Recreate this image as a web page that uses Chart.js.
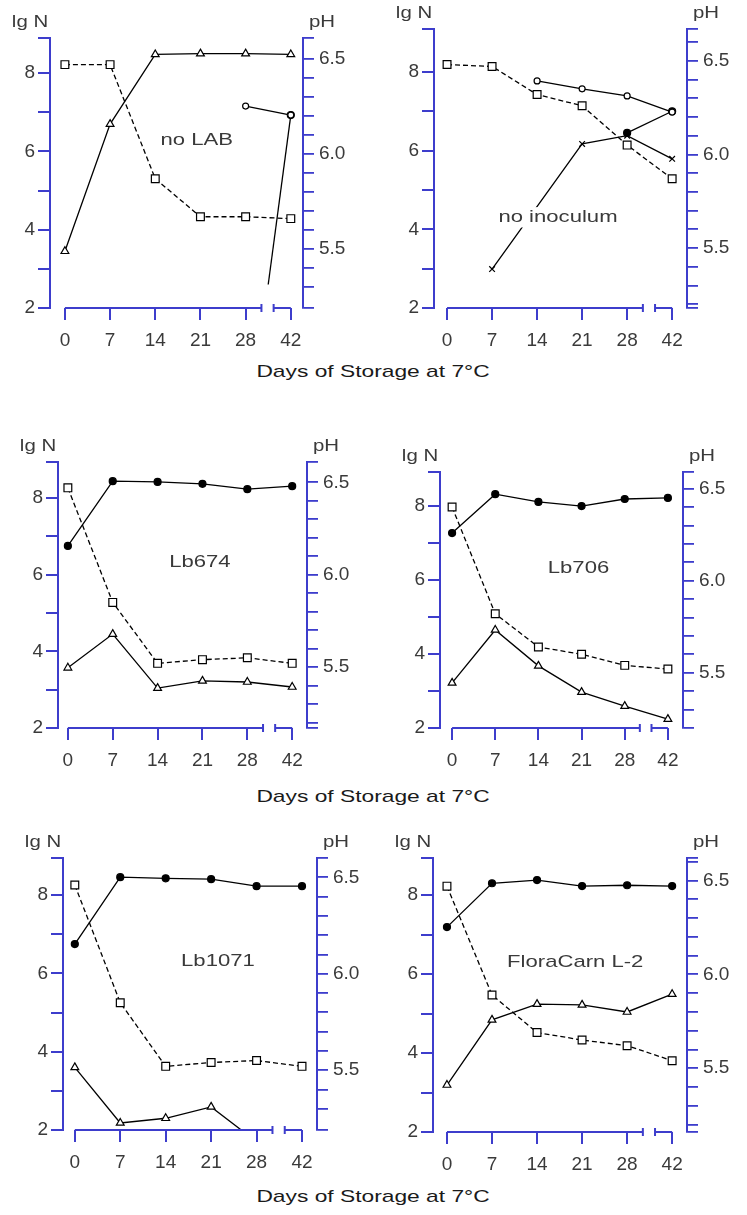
<!DOCTYPE html>
<html>
<head>
<meta charset="utf-8">
<title>Days of Storage at 7°C</title>
<script src="https://cdn.jsdelivr.net/npm/chart.js@4.4.1/dist/chart.umd.min.js"></script>
<style>
  body { margin: 0; background: #fff; }
  #page { position: relative; width: 747px; height: 1215px; background: #fff; overflow: hidden;
          font-family: "Liberation Sans", Arial, sans-serif; }
  #page canvas { position: absolute; }
  .xtitle { position: absolute; left: 0; width: 747px; text-align: center; font-size: 17px; color: #1a1a1a; line-height: 20px; }
  .xtitle span { display: inline-block; transform: scaleX(1.34); }
</style>
</head>
<body>
<div id="page">
  <canvas id="c1"></canvas>
  <canvas id="c2"></canvas>
  <canvas id="c3"></canvas>
  <canvas id="c4"></canvas>
  <canvas id="c5"></canvas>
  <canvas id="c6"></canvas>
  <div class="xtitle" style="top:362px"><span>Days of Storage at 7°C</span></div>
  <div class="xtitle" style="top:787px"><span>Days of Storage at 7°C</span></div>
  <div class="xtitle" style="top:1187px"><span>Days of Storage at 7°C</span></div>
</div>
<script>
// === Data ===
const dayLabels = ['0', '7', '14', '21', '28', '42'];
const dayPos = [0, 1, 2, 3, 4, 5];
const lgNTicks = [2, 3, 4, 5, 6, 7, 8];
const lgNLabels = ['2', '4', '6', '8'];
const phTicks = [5.2, 5.3, 5.4, 5.5, 5.6, 5.7, 5.8, 5.9, 6.0, 6.1, 6.2, 6.3, 6.4, 6.5, 6.6];
const phLabels = ['5.5', '6.0', '6.5'];

// no LAB
const noLabPh = [6.47, 6.47, 5.87, 5.67, 5.67, 5.66];
const noLabTri = [3.45, 6.70, 8.48, 8.50, 8.50, 8.48];
const noLabRing = [null, null, null, null, 7.16, 6.93];
const noLabDotX = [4.5, 5];
const noLabDotY = [2.6, 6.93];

// no inoculum
const noInocPh = [6.48, 6.47, 6.32, 6.26, 6.05, 5.87];
const noInocRing = [null, null, 7.77, 7.57, 7.39, 6.98];
const noInocCross = [null, 2.99, null, 6.17, 6.38, 5.79];
const noInocDot = [null, null, null, null, 6.45, 7.00];

// Lb674
const lb674Dot = [6.75, 8.44, 8.42, 8.37, 8.23, 8.31];
const lb674Ph = [6.47, 5.85, 5.52, 5.54, 5.55, 5.52];
const lb674Tri = [3.57, 4.45, 3.04, 3.23, 3.20, 3.07];

// Lb706
const lb706Dot = [7.27, 8.32, 8.11, 8.00, 8.19, 8.22];
const lb706Ph = [6.40, 5.82, 5.64, 5.60, 5.54, 5.52];
const lb706Tri = [3.22, 4.65, 3.68, 2.97, 2.59, 2.24];

// Lb1071
const lb1071Dot = [6.75, 8.46, 8.43, 8.41, 8.23, 8.23];
const lb1071Ph = [6.46, 5.85, 5.52, 5.54, 5.55, 5.52];
const lb1071Tri = [3.60, 2.18, 2.30, 2.59, 1.70, null];

// FloraCarn L-2
const floraDot = [7.19, 8.30, 8.38, 8.23, 8.25, 8.23];
const floraPh = [6.47, 5.89, 5.69, 5.65, 5.62, 5.54];
const floraTri = [3.19, 4.84, 5.24, 5.22, 5.04, 5.49];

// === Styles ===
const BLUE = '#3d3dcc';
const TXT = '#3a3a3a';
const FONT = 'Liberation Sans, Arial, sans-serif';
const PAD_L = 55, PAD_R = 55, PAD_T = 34, PAD_B = 52;

const MARK = {
  square: { pointStyle: 'rect', pointRadius: 5.5, pointBackgroundColor: '#fff', borderDash: [5, 3] },
  tri:    { pointStyle: 'triangle', pointRadius: 4.5, pointBackgroundColor: '#fff' },
  dot:    { pointStyle: 'circle', pointRadius: 3.5, pointBackgroundColor: '#000' },
  ring:   { pointStyle: 'circle', pointRadius: 3, pointBackgroundColor: '#fff' },
  cross:  { pointStyle: 'crossRot', pointRadius: 4, pointBackgroundColor: '#000' }
};

function series(kind, ys, axis, xs) {
  xs = xs || dayPos;
  return Object.assign({
    data: xs.map((x, i) => ({ x: x, y: ys[i] })),
    yAxisID: axis,
    borderColor: '#000', borderWidth: 1.3,
    pointBorderColor: '#000', pointBorderWidth: 1.2,
    pointHoverRadius: 0,
    spanGaps: true, tension: 0, fill: false,
    clip: { left: 8, right: 8, top: 8, bottom: 1 }
  }, MARK[kind]);
}

const panels = [
  { id: 'c1', L: 50, R: 303, T: 38, B: 308, lgMax: 8.9, phMin: 5.19, phMax: 6.61, xMin: -0.33, xMax: 5.27,
    name: 'no LAB', fx: 0.58, fy: 0.38,
    sets: [series('square', noLabPh, 'y1'), series('tri', noLabTri, 'y'), series('ring', noLabRing, 'y'),
           Object.assign(series('dot', noLabDotY, 'y', noLabDotX), { pointRadius: [0, 3.5] })] },
  { id: 'c2', L: 434, R: 687, T: 29, B: 308, lgMax: 9.09, phMin: 5.18, phMax: 6.67, xMin: -0.29, xMax: 5.33,
    name: 'no inoculum', fx: 0.49, fy: 0.675,
    sets: [series('square', noInocPh, 'y1'), series('ring', noInocRing, 'y'), series('cross', noInocCross, 'y'),
           series('dot', noInocDot, 'y')] },
  { id: 'c3', L: 58, R: 307, T: 462, B: 728, lgMax: 8.94, phMin: 5.17, phMax: 6.61, xMin: -0.22, xMax: 5.33,
    name: 'Lb674', fx: 0.57, fy: 0.376,
    sets: [series('square', lb674Ph, 'y1'), series('dot', lb674Dot, 'y'), series('tri', lb674Tri, 'y')] },
  { id: 'c4', L: 440, R: 683, T: 472, B: 728, lgMax: 8.92, phMin: 5.2, phMax: 6.59, xMin: -0.28, xMax: 5.35,
    name: 'Lb706', fx: 0.57, fy: 0.375,
    sets: [series('square', lb706Ph, 'y1'), series('dot', lb706Dot, 'y'), series('tri', lb706Tri, 'y')] },
  { id: 'c5', L: 63, R: 317, T: 858, B: 1130, lgMax: 8.95, phMin: 5.19, phMax: 6.6, xMin: -0.26, xMax: 5.33,
    name: 'Lb1071', fx: 0.61, fy: 0.38,
    sets: [series('square', lb1071Ph, 'y1'), series('dot', lb1071Dot, 'y'), series('tri', lb1071Tri, 'y')] },
  { id: 'c6', L: 433, R: 687, T: 858, B: 1132, lgMax: 8.94, phMin: 5.16, phMax: 6.62, xMin: -0.31, xMax: 5.33,
    name: 'FloraCarn L-2', fx: 0.56, fy: 0.38,
    sets: [series('square', floraPh, 'y1'), series('dot', floraDot, 'y'), series('tri', floraTri, 'y')] }
];

function drawText(ctx, s, cx, cy, size, sx, bg) {
  ctx.save();
  ctx.translate(cx, cy);
  ctx.scale(sx, 1);
  ctx.font = size + 'px ' + FONT;
  ctx.textAlign = 'center';
  ctx.textBaseline = 'middle';
  if (bg) {
    const w = ctx.measureText(s).width;
    ctx.fillStyle = '#fff';
    ctx.fillRect(-w / 2 - 2, -size * 0.6, w + 4, size * 1.2);
  }
  ctx.fillStyle = TXT;
  ctx.fillText(s, 0, 0);
  ctx.restore();
}

// axis line with break, axis names, panel name
const axisDecor = {
  id: 'axisDecor',
  afterDatasetsDraw(chart) {
    const o = chart.options.plugins.axisDecor;
    const a = chart.chartArea;
    drawText(chart.ctx, o.name, a.left + o.fx * (a.right - a.left), a.top + o.fy * (a.bottom - a.top), 17, 1.3, true);
  },
  afterDraw(chart) {
    const ctx = chart.ctx, a = chart.chartArea, x = chart.scales.x;
    const y = a.bottom;
    const x0 = x.getPixelForValue(0), b1 = x.getPixelForValue(4.35), b2 = x.getPixelForValue(4.62), x5 = x.getPixelForValue(5);
    ctx.save();
    ctx.strokeStyle = BLUE;
    ctx.lineWidth = 2;
    ctx.beginPath();
    ctx.moveTo(x0, y); ctx.lineTo(b1, y);
    ctx.moveTo(b1, y - 4); ctx.lineTo(b1, y + 4);
    ctx.moveTo(b2, y - 4); ctx.lineTo(b2, y + 4);
    ctx.moveTo(b2, y); ctx.lineTo(x5, y);
    ctx.stroke();
    ctx.restore();
    drawText(ctx, 'lg N', a.left - 20, a.top - 16, 17, 1.2, false);
    drawText(ctx, 'pH', a.right + 19, a.top - 16, 17, 1.2, false);
  }
};

const tickFont = { family: FONT, size: 19 };
const isLabel = (list, v, digits) => list.indexOf(v.toFixed(digits)) >= 0 && Math.abs(v - parseFloat(v.toFixed(digits))) < 1e-6;

panels.forEach(p => {
  const cv = document.getElementById(p.id);
  cv.width = p.R - p.L + PAD_L + PAD_R;
  cv.height = p.B - p.T + PAD_T + PAD_B;
  cv.style.left = (p.L - PAD_L) + 'px';
  cv.style.top = (p.T - PAD_T) + 'px';

  new Chart(cv, {
    type: 'line',
    data: { datasets: p.sets },
    plugins: [axisDecor],
    options: {
      responsive: false,
      animation: false,
      devicePixelRatio: 1,
      layout: { padding: { top: PAD_T, left: 0, right: 0, bottom: 0 } },
      plugins: {
        legend: { display: false },
        tooltip: { enabled: false },
        axisDecor: { name: p.name, fx: p.fx, fy: p.fy }
      },
      scales: {
        x: {
          type: 'linear', min: p.xMin, max: p.xMax,
          afterBuildTicks: s => { s.ticks = dayPos.map(v => ({ value: v })); },
          afterFit: s => { s.height = PAD_B; },
          ticks: {
            callback: v => { const i = dayPos.indexOf(v); return i >= 0 ? dayLabels[i] : ''; },
            font: tickFont, color: TXT, padding: 9, autoSkip: false, maxRotation: 0
          },
          grid: { drawOnChartArea: false, drawTicks: true, tickLength: 12, color: BLUE, lineWidth: 2 },
          border: { display: false }
        },
        y: {
          position: 'left', min: 2, max: p.lgMax,
          afterBuildTicks: s => { s.ticks = lgNTicks.concat([s.max]).map(v => ({ value: v })); },
          afterFit: s => { s.width = PAD_L; },
          ticks: {
            callback: v => isLabel(lgNLabels, v, 0) ? v.toFixed(0) : '',
            font: tickFont, color: TXT, padding: 3, autoSkip: false
          },
          grid: { drawOnChartArea: false, drawTicks: true, tickLength: 12, color: BLUE, lineWidth: 2 },
          border: { display: true, color: BLUE, width: 2 }
        },
        y1: {
          position: 'right', min: p.phMin, max: p.phMax,
          afterBuildTicks: s => {
            const inner = phTicks.filter(v => v > s.min + 0.02 && v < s.max - 0.02);
            s.ticks = [s.min].concat(inner, [s.max]).map(v => ({ value: v }));
          },
          afterFit: s => { s.width = PAD_R; },
          ticks: {
            callback: v => isLabel(phLabels, v, 1) ? v.toFixed(1) : '',
            font: tickFont, color: TXT, padding: 5, autoSkip: false
          },
          grid: { drawOnChartArea: false, drawTicks: true, tickLength: 11, color: BLUE, lineWidth: 1.8 },
          border: { display: true, color: BLUE, width: 2 }
        }
      }
    }
  });
});
</script>
</body>
</html>
